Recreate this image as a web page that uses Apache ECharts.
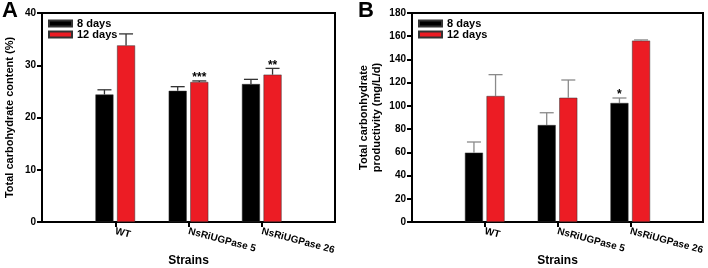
<!DOCTYPE html>
<html lang="en">
<head>
<meta charset="UTF-8">
<title>carbohydrate</title>
<style type="text/css">
body,html{
	width: 100%;
	height: 100%;
	margin: 0;
	padding: 0;
	background: #fff;
}
#chart{
	width: 708px;
	height: 268px;
}
</style>
</head>
<body>
<div id="chart"></div>
<script type="text/javascript" src="https://cdn.jsdelivr.net/npm/echarts@6/dist/echarts.min.js"></script>
<script type="text/javascript">
var categories = ['WT', 'NsRiUGPase 5', 'NsRiUGPase 26'];
var seriesNames = ['8 days', '12 days'];

// panel A: total carbohydrate content (%)
var contentDay8 = [24.4, 25.1, 26.4];
var contentDay8Err = [0.9, 0.8, 0.9];
var contentDay8Sig = ['', '', ''];
var contentDay12 = [33.8, 26.8, 28.2];
var contentDay12Err = [2.2, 0.2, 1.2];
var contentDay12Sig = ['', '***', '**'];
var contentAxis = [0, 40, 10];

// panel B: total carbohydrate productivity (mg/L/d)
var prodDay8 = [59.7, 83.5, 102.5];
var prodDay8Err = [9.2, 10.6, 4.3];
var prodDay8Sig = ['', '', '*'];
var prodDay12 = [108.5, 107.0, 156.2];
var prodDay12Err = [18.4, 15.3, 0.6];
var prodDay12Sig = ['', '', ''];
var prodAxis = [0, 180, 20];

var FONT = 'Arial, "Liberation Sans", sans-serif';
var RED = '#ec1c24';
var BAR_W = 18;
var OFFSET = 10.8;

var chart = echarts.init(document.getElementById('chart'));

// empty slots at both ends so the three strains sit on ticks 1..3
function pad(arr){
	return ['-'].concat(arr).concat(['-']);
}
var padCats = [''].concat(categories).concat(['']);

function errorRender(vals, errs, sigs, offset, color){
	return function(params, api){
		var i = params.dataIndex;
		var top = api.coord([i + 1, vals[i]]);
		var hi = api.coord([i + 1, vals[i] + errs[i]]);
		var x = top[0] + offset;
		var kids = [
			{type: 'line', shape: {x1: x, y1: top[1], x2: x, y2: hi[1]}, style: {stroke: color, lineWidth: 1.3}},
			{type: 'line', shape: {x1: x - 7, y1: hi[1], x2: x + 7, y2: hi[1]}, style: {stroke: color, lineWidth: 1.3}}
		];
		if (sigs[i]) {
			kids.push({type: 'text', style: {
				text: sigs[i], x: x, y: hi[1] + 3, align: 'center', verticalAlign: 'bottom',
				fontFamily: FONT, fontWeight: 'bold', fontSize: 12, fill: '#000'
			}});
		}
		return {type: 'group', children: kids};
	};
}

function xAxisFor(idx){
	return {
		type: 'category', gridIndex: idx, data: padCats, boundaryGap: false,
		name: 'Strains', nameLocation: 'middle', nameGap: 33, nameMoveOverlap: false,
		nameTextStyle: {fontFamily: FONT, fontWeight: 'bold', fontSize: 12, color: '#000'},
		axisLine: {lineStyle: {color: '#000', width: 2}},
		axisTick: {length: 5, lineStyle: {color: '#000', width: 2},
			interval: function(i){ return i >= 1 && i <= categories.length; }},
		axisLabel: {rotate: -15, margin: 9, interval: 0, fontFamily: FONT, fontWeight: 'bold',
			fontSize: 10, color: '#000'},
		splitLine: {show: false}
	};
}

function yAxisFor(idx, ax, name, gap){
	return {
		type: 'value', gridIndex: idx, min: ax[0], max: ax[1], interval: ax[2],
		name: name, nameLocation: 'middle', nameGap: gap, nameMoveOverlap: false,
		nameTextStyle: {fontFamily: FONT, fontWeight: 'bold', fontSize: 11, color: '#000', lineHeight: 13},
		axisLine: {show: true, lineStyle: {color: '#000', width: 2}},
		axisTick: {show: true, length: 5, lineStyle: {color: '#000', width: 2}},
		axisLabel: {margin: 6, fontFamily: FONT, fontWeight: 'bold', fontSize: 10, color: '#000'},
		splitLine: {show: false}
	};
}

function barSeries(name, vals, color, idx){
	return {
		name: name, type: 'bar', xAxisIndex: idx, yAxisIndex: idx,
		data: pad(vals), barWidth: BAR_W, barGap: '20%',
		itemStyle: {color: color, borderColor: '#333', borderWidth: 0.5},
		animation: false
	};
}

function errSeries(name, vals, errs, sigs, offset, color, idx){
	return {
		name: name, type: 'custom', xAxisIndex: idx, yAxisIndex: idx,
		renderItem: errorRender(vals, errs, sigs, offset, color),
		data: vals.map(function(v, i){ return [i + 1, v + errs[i]]; }),
		z: 5, silent: true, animation: false
	};
}

function legendFor(left){
	return {
		left: left, top: 18, orient: 'vertical', padding: 0, itemGap: 0,
		itemWidth: 23, itemHeight: 6, icon: 'rect',
		data: seriesNames,
		textStyle: {fontFamily: FONT, fontWeight: 'bold', fontSize: 11, color: '#000', lineHeight: 11}
	};
}

var option = {
	backgroundColor: '#fff',
	animation: false,
	title: [
		{text: 'A', left: 2, top: 0, padding: 0, textStyle: {fontFamily: FONT, fontWeight: 'bold', fontSize: 22, color: '#000'}},
		{text: 'B', left: 358, top: 0, padding: 0, textStyle: {fontFamily: FONT, fontWeight: 'bold', fontSize: 22, color: '#000'}}
	],
	legend: [legendFor(48), legendFor(418)],
	grid: [
		{left: 42, top: 13, width: 293, height: 209, show: true, borderColor: '#000', borderWidth: 2,
			containLabel: false, outerBoundsMode: 'none'},
		{left: 412, top: 13, width: 291, height: 209, show: true, borderColor: '#000', borderWidth: 2,
			containLabel: false, outerBoundsMode: 'none'}
	],
	xAxis: [xAxisFor(0), xAxisFor(1)],
	yAxis: [
		yAxisFor(0, contentAxis, 'Total carbohydrate content (%)', 26),
		yAxisFor(1, prodAxis, 'Total carbonhydrate\nproductivity (mg/L/d)', 29)
	],
	series: [
		barSeries(seriesNames[0], contentDay8, '#000', 0),
		barSeries(seriesNames[1], contentDay12, RED, 0),
		errSeries(seriesNames[0], contentDay8, contentDay8Err, contentDay8Sig, -OFFSET, '#333', 0),
		errSeries(seriesNames[1], contentDay12, contentDay12Err, contentDay12Sig, OFFSET, '#333', 0),
		barSeries(seriesNames[0], prodDay8, '#000', 1),
		barSeries(seriesNames[1], prodDay12, RED, 1),
		errSeries(seriesNames[0], prodDay8, prodDay8Err, prodDay8Sig, -OFFSET, '#8a8a8a', 1),
		errSeries(seriesNames[1], prodDay12, prodDay12Err, prodDay12Sig, OFFSET, '#8a8a8a', 1)
	]
};

chart.setOption(option);
window.addEventListener('resize', function(){
	chart.resize();
});
</script>
</body>
</html>
